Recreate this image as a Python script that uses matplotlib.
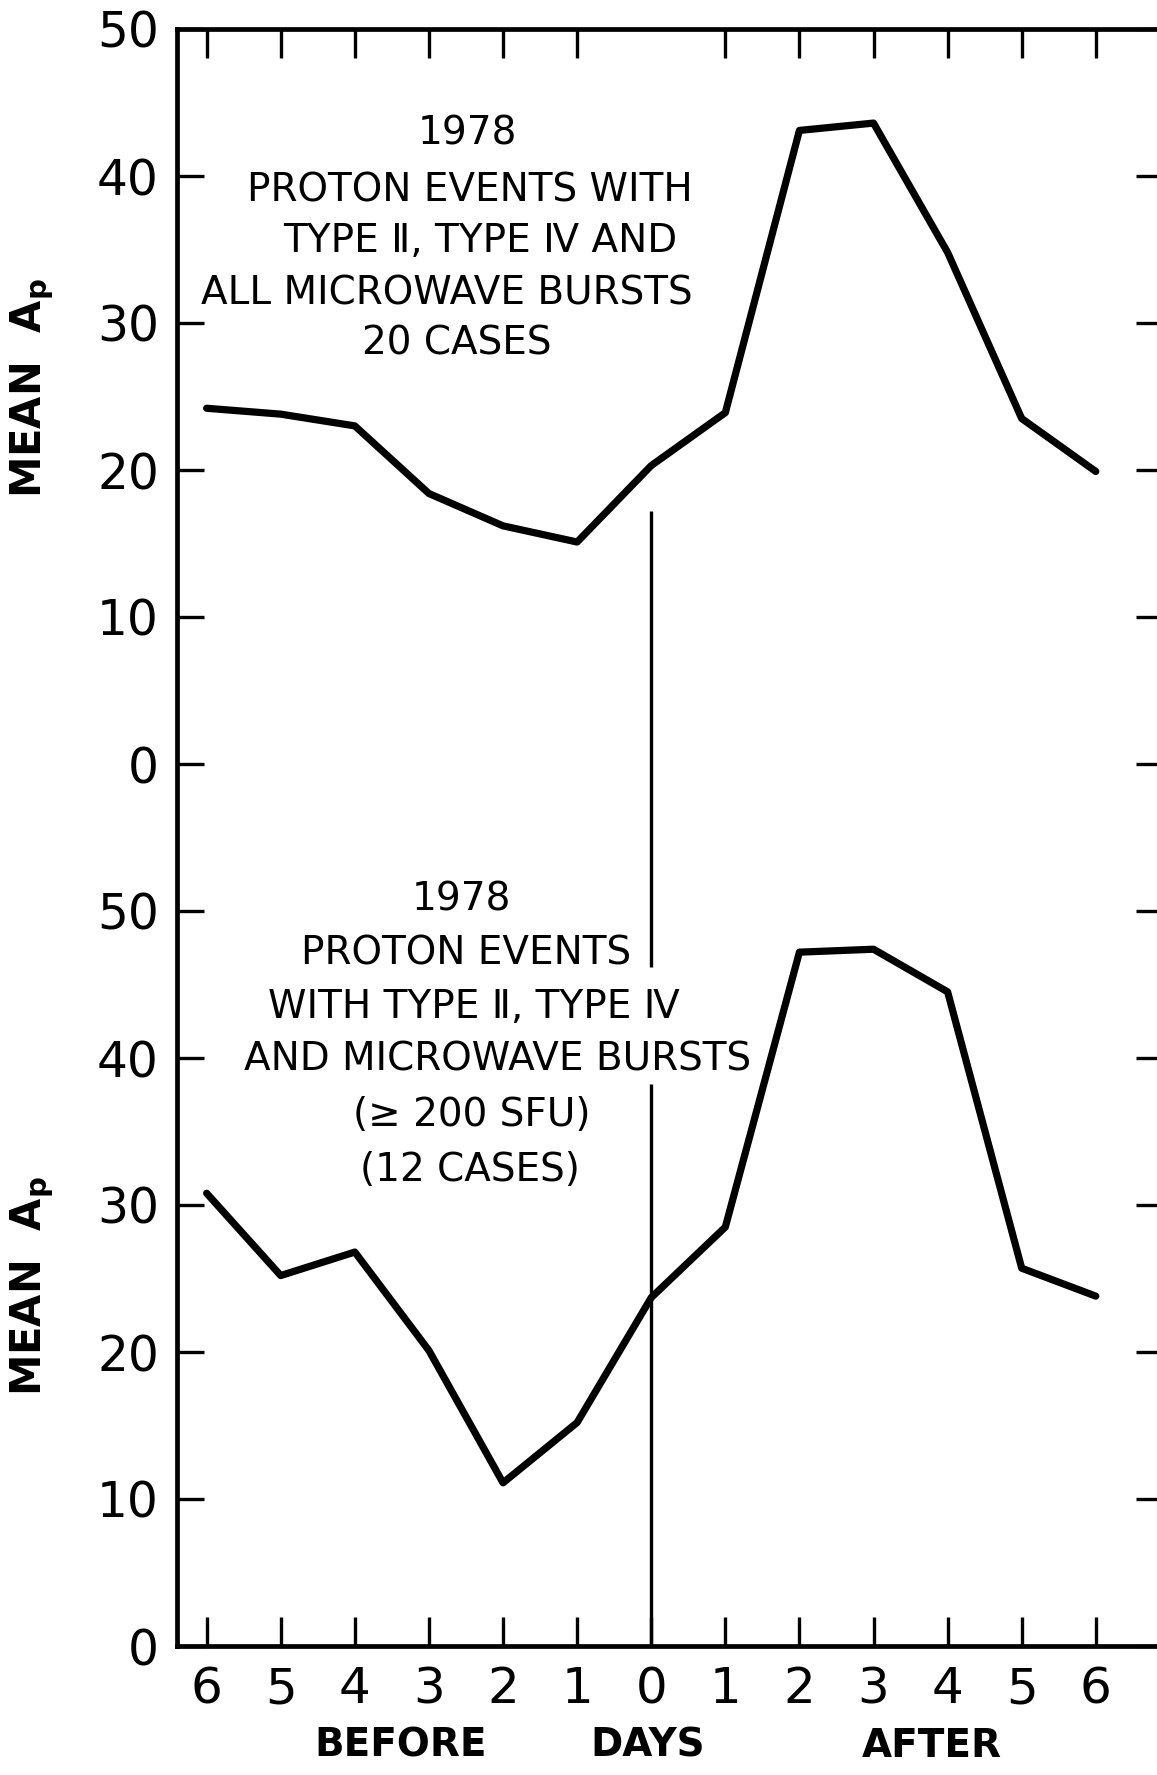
import matplotlib
matplotlib.use("Agg")
import matplotlib.pyplot as plt

plt.rcParams['font.family'] = ['DejaVu Sans', 'Noto Sans CJK SC']
plt.rcParams['mathtext.fontset'] = 'dejavusans'

# ---------------- data ----------------
days = [-6, -5, -4, -3, -2, -1, 0, 1, 2, 3, 4, 5, 6]
day_labels = ['6', '5', '4', '3', '2', '1', '0', '1', '2', '3', '4', '5', '6']

# upper panel: all microwave bursts, 20 cases
ap_all = [24.2, 23.8, 23.0, 18.4, 16.2, 15.1, 20.3, 23.9, 43.1, 43.6, 34.8, 23.5, 19.9]
# lower panel: microwave bursts >= 200 SFU, 12 cases
ap_200 = [30.8, 25.2, 26.8, 20.1, 11.1, 15.2, 23.7, 28.5, 47.2, 47.4, 44.5, 25.7, 23.8]

panel_offset = 60          # upper panel drawn 60 units above lower one
y_ticks_panel = [0, 10, 20, 30, 40, 50]

# day-0 marker segments (combined coordinates)
day0_segments = [(0.0, 38.2), (46.2, 77.2)]

upper_text = [
    ("1978", -2.48, 102.9),
    ("PROTON EVENTS WITH", -2.45, 99.0),
    ("TYPE \u2161, TYPE \u2163 AND", -2.31, 95.6),
    ("ALL MICROWAVE BURSTS", -2.76, 92.0),
    ("20 CASES", -2.62, 88.6),
]
lower_text = [
    ("1978", -2.56, 50.8),
    ("PROTON EVENTS", -2.50, 47.1),
    ("WITH TYPE \u2161, TYPE \u2163", -2.40, 43.5),
    ("AND MICROWAVE BURSTS", -2.08, 39.9),
    ("(\u2265 200 SFU)", -2.42, 36.1),
    ("(12 CASES)", -2.44, 32.4),
]
xlabels = [("BEFORE", -3.38), ("DAYS", -0.05), ("AFTER", 3.79)]

# ---------------- figure ----------------
W, H = 1157, 1775
fig = plt.figure(figsize=(W / 100, H / 100), dpi=100)
ax = fig.add_axes([177 / W, 1 - 1646 / H, 985.5 / W, 1617 / H])
ax.set_xlim(-6.40, 6.90)
ax.set_ylim(0, 110)

lw_data = 5.2
ax.plot(days, [v + panel_offset for v in ap_all], color='black', lw=lw_data,
        solid_joinstyle='round', solid_capstyle='round', clip_on=False)
ax.plot(days, ap_200, color='black', lw=lw_data,
        solid_joinstyle='round', solid_capstyle='round', clip_on=False)

for y0, y1 in day0_segments:
    ax.vlines(0, y0, y1, color='black', lw=2.4)

for s, x, y in upper_text + lower_text:
    ax.text(x, y, s, ha='center', va='center', fontsize=28, color='black')

for s, x in xlabels:
    ax.text(x, -5.5, s, ha='center', va='top', fontsize=28, fontweight='bold',
            color='black', clip_on=False)

# spines
for side in ['left', 'top', 'bottom', 'right']:
    ax.spines[side].set_linewidth(3.4)
    ax.spines[side].set_color('black')

# y ticks
yt = y_ticks_panel + [v + panel_offset for v in y_ticks_panel]
ax.set_yticks(yt)
ax.set_yticklabels([str(v) for v in y_ticks_panel] * 2)
ax.tick_params(axis='y', which='major', left=True, right=True, direction='in',
               length=19.5, width=2.4, labelsize=35, pad=13)

# x ticks (bottom)
ax.set_xticks(days)
ax.set_xticklabels(day_labels)
ax.tick_params(axis='x', which='major', bottom=True, top=False, direction='in',
               length=21, width=2.4, labelsize=36, pad=14)

# top ticks without day 0
sec = ax.secondary_xaxis('top')
sec.set_xticks([d for d in days if d != 0])
sec.set_xticklabels([])
sec.tick_params(axis='x', direction='in', length=21, width=2.4)
sec.spines['top'].set_visible(False)

# y-axis titles for both panels
for yc in (388, 1286):
    fig.text(32 / W, 1 - yc / H, r"MEAN  A$_{\mathbf{p}}$", rotation=90,
             ha='center', va='center', fontsize=30, fontweight='bold')

fig.savefig("out.png", dpi=100, facecolor='white')
